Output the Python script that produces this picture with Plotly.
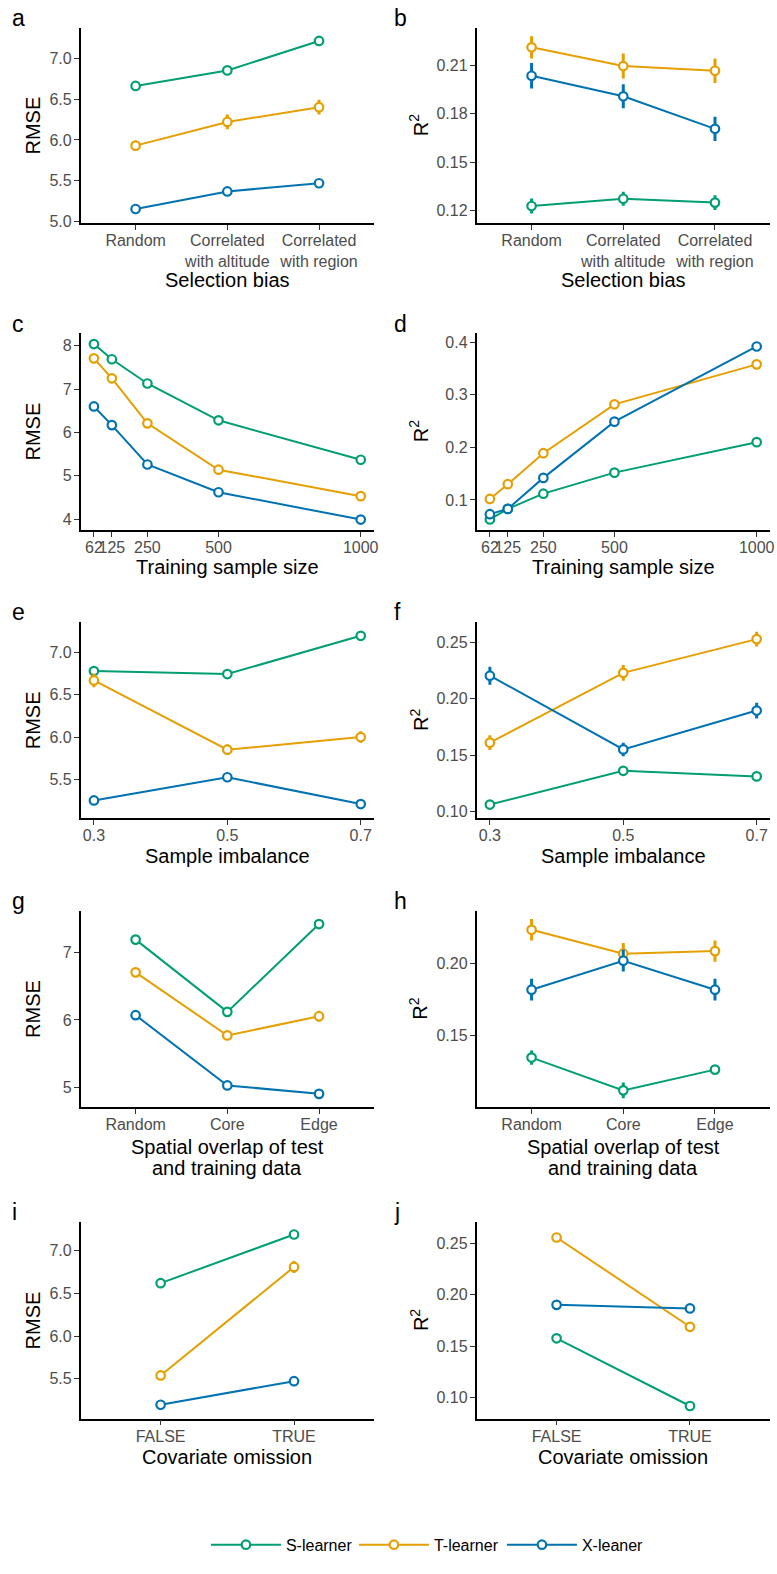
import plotly.graph_objects as go

W, H = 777, 1574

learners = ["S-learner", "T-learner", "X-leaner"]
colors = ["#009E73", "#E69F00", "#0072B2"]

# ---- data ----
sel_bias = ["Random", "Correlated<br>with altitude", "Correlated<br>with region"]
a_rmse = [[6.66, 6.85, 7.21], [5.93, 6.22, 6.40], [5.155, 5.37, 5.47]]
a_err = [[0.03, 0.03, 0.03], [0.06, 0.09, 0.09], [0.03, 0.03, 0.03]]
b_r2 = [[0.1229, 0.1274, 0.125], [0.221, 0.2094, 0.2065], [0.2034, 0.1907, 0.1706]]
b_err = [[0.0046, 0.0043, 0.0046], [0.0069, 0.0077, 0.0076], [0.0079, 0.0074, 0.0075]]

sample_size = [62, 125, 250, 500, 1000]
c_rmse = [[8.04, 7.69, 7.13, 6.28, 5.37], [7.71, 7.25, 6.21, 5.14, 4.53], [6.60, 6.17, 5.26, 4.62, 3.99]]
c_err = [[0.03] * 5, [0.03] * 5, [0.03] * 5]
d_r2 = [[0.063, 0.083, 0.112, 0.152, 0.21], [0.102, 0.130, 0.189, 0.282, 0.358], [0.073, 0.083, 0.142, 0.249, 0.392]]
d_err = [[0.003] * 5, [0.003] * 5, [0.003] * 5]

imbalance = [0.3, 0.5, 0.7]
e_rmse = [[6.78, 6.745, 7.195], [6.67, 5.855, 6.003], [5.257, 5.53, 5.215]]
e_err = [[0.03, 0.03, 0.03], [0.08, 0.06, 0.07], [0.03, 0.03, 0.03]]
f_r2 = [[0.106, 0.136, 0.131], [0.161, 0.223, 0.253], [0.2205, 0.155, 0.1895]]
f_err = [[0.003, 0.003, 0.003], [0.0066, 0.007, 0.0066], [0.008, 0.006, 0.007]]

overlap = ["Random", "Core", "Edge"]
g_rmse = [[7.19, 6.12, 7.42], [6.705, 5.77, 6.055], [6.07, 5.03, 4.905]]
g_err = [[0.04, 0.04, 0.04], [0.05, 0.05, 0.08], [0.04, 0.04, 0.04]]
h_r2 = [[0.1349, 0.1123, 0.1266], [0.223, 0.2065, 0.2083], [0.1817, 0.2017, 0.1817]]
h_err = [[0.0049, 0.0055, 0.003], [0.0074, 0.0074, 0.0074], [0.0075, 0.0075, 0.0075]]

omission = ["FALSE", "TRUE"]
i_rmse = [[6.62, 7.19], [5.54, 6.81], [5.197, 5.473]]
i_err = [[0.03, 0.03], [0.05, 0.07], [0.03, 0.03]]
j_r2 = [[0.1575, 0.0917], [0.2555, 0.1687], [0.19, 0.1865]]
j_err = [[0.002, 0.002], [0.002, 0.002], [0.002, 0.002]]

# ---- layout helpers ----
def px_x(p):
    return p / W

def px_y(p):
    return 1 - p / H

col_px = [(81, 376), (479, 774)]
row_px = [(28, 224), (334.3, 532.3), (625, 821.7), (915, 1111.7), (1227.3, 1425)]
xtitle_y = [[281], [570], [860], [1151.7, 1173.3], [1463.3]]
letter_base = [25, 332, 622, 912, 1224]
letters = [["a", "b"], ["c", "d"], ["e", "f"], ["g", "h"], ["i", "j"]]

panels = [
    [dict(x=sel_bias, y=a_rmse, e=a_err, xtype="category", xr=[-0.6, 2.6], xt=None,
          yt="RMSE", yr=[4.984, 7.37], ytv=[5.0, 5.5, 6.0, 6.5, 7.0], yf=".1f", xl=["Selection bias"]),
     dict(x=sel_bias, y=b_r2, e=b_err, xtype="category", xr=[-0.6, 2.6], xt=None,
          yt="R<sup>2</sup>", yr=[0.1124, 0.233], ytv=[0.12, 0.15, 0.18, 0.21], yf=".2f", xl=["Selection bias"])],
    [dict(x=sample_size, y=c_rmse, e=c_err, xtype="linear", xr=[15.1, 1046.9], xt=sample_size,
          yt="RMSE", yr=[3.75, 8.3], ytv=[4, 5, 6, 7, 8], yf="d", xl=["Training sample size"]),
     dict(x=sample_size, y=d_r2, e=d_err, xtype="linear", xr=[15.1, 1046.9], xt=sample_size,
          yt="R<sup>2</sup>", yr=[0.043, 0.418], ytv=[0.1, 0.2, 0.3, 0.4], yf=".1f", xl=["Training sample size"])],
    [dict(x=imbalance, y=e_rmse, e=e_err, xtype="linear", xr=[0.28, 0.72], xt=imbalance,
          yt="RMSE", yr=[5.05, 7.355], ytv=[5.5, 6.0, 6.5, 7.0], yf=".1f", xl=["Sample imbalance"]),
     dict(x=imbalance, y=f_r2, e=f_err, xtype="linear", xr=[0.28, 0.72], xt=imbalance,
          yt="R<sup>2</sup>", yr=[0.094, 0.268], ytv=[0.10, 0.15, 0.20, 0.25], yf=".2f", xl=["Sample imbalance"])],
    [dict(x=overlap, y=g_rmse, e=g_err, xtype="category", xr=[-0.6, 2.6], xt=None,
          yt="RMSE", yr=[4.714, 7.615], ytv=[5, 6, 7], yf="d",
          xl=["Spatial overlap of test", "and training data"]),
     dict(x=overlap, y=h_r2, e=h_err, xtype="category", xr=[-0.6, 2.6], xt=None,
          yt="R<sup>2</sup>", yr=[0.101, 0.236], ytv=[0.15, 0.20], yf=".2f",
          xl=["Spatial overlap of test", "and training data"])],
    [dict(x=omission, y=i_rmse, e=i_err, xtype="category", xr=[-0.6, 1.6], xt=None,
          yt="RMSE", yr=[5.034, 7.338], ytv=[5.5, 6.0, 6.5, 7.0], yf=".1f", xl=["Covariate omission"]),
     dict(x=omission, y=j_r2, e=j_err, xtype="category", xr=[-0.6, 1.6], xt=None,
          yt="R<sup>2</sup>", yr=[0.0794, 0.2707], ytv=[0.10, 0.15, 0.20, 0.25], yf=".2f",
          xl=["Covariate omission"])],
]

FONT = "Liberation Sans, Arial, sans-serif"
fig = go.Figure()
annotations = []
layout_axes = {}

k = 0
for r, row in enumerate(panels):
    for c, p in enumerate(row):
        k += 1
        xa = "x" if k == 1 else f"x{k}"
        ya = "y" if k == 1 else f"y{k}"
        for li, name in enumerate(learners):
            fig.add_trace(go.Scatter(
                x=p["x"], y=p["y"][li], xaxis=xa, yaxis=ya,
                mode="lines+markers", name=name,
                legendgroup=name, showlegend=(k == 1),
                line=dict(color=colors[li], width=2),
                marker=dict(symbol="circle", size=8.5, color="white",
                            line=dict(color=colors[li], width=2.2)),
                error_y=dict(type="data", array=p["e"][li], visible=True,
                             color=colors[li], thickness=3, width=0),
            ))
        x0, x1 = col_px[c]
        y0, y1 = row_px[r]
        xkey = "xaxis" if k == 1 else f"xaxis{k}"
        ykey = "yaxis" if k == 1 else f"yaxis{k}"
        common = dict(showline=True, linecolor="black", linewidth=1.5, mirror=False,
                      ticks="outside", ticklen=5, tickwidth=1.3, tickcolor="#333333",
                      tickfont=dict(family=FONT, size=16, color="#4D4D4D"),
                      showgrid=False, zeroline=False, fixedrange=True)
        xax = dict(common, domain=[px_x(x0), px_x(x1)], anchor=ya, range=p["xr"],
                   type=p["xtype"], tickangle=0, ticklabelstandoff=-3)
        if p["xt"] is not None:
            xax.update(tickmode="array", tickvals=p["xt"], ticktext=[str(v) for v in p["xt"]])
        yax = dict(common, domain=[px_y(y1), px_y(y0)], anchor=xa, range=p["yr"],
                   tickmode="array", tickvals=p["ytv"], tickformat=p["yf"], ticklabelstandoff=-1)
        layout_axes[xkey] = xax
        layout_axes[ykey] = yax

        # x-axis title
        for ti, t in enumerate(p["xl"]):
            annotations.append(dict(text=t, x=px_x((x0 + x1) / 2), y=px_y(xtitle_y[r][ti]),
                                    xref="paper", yref="paper", xanchor="center", yanchor="middle",
                                    showarrow=False, font=dict(family=FONT, size=20, color="black")))
        # y-axis title
        annotations.append(dict(text=p["yt"], x=px_x(33.3 if c == 0 else 421),
                                y=px_y((y0 + y1) / 2), xref="paper", yref="paper",
                                xanchor="center", yanchor="middle", textangle=-90, showarrow=False,
                                font=dict(family=FONT, size=20, color="black")))
        # panel letter
        annotations.append(dict(text=letters[r][c], x=px_x(10 if c == 0 else 394),
                                y=px_y(letter_base[r] - 7), xref="paper", yref="paper",
                                xanchor="left", yanchor="middle", showarrow=False,
                                font=dict(family=FONT, size=23, color="black")))

fig.update_layout(
    width=W, height=H,
    margin=dict(l=0, r=0, t=0, b=0),
    paper_bgcolor="white", plot_bgcolor="white",
    font=dict(family=FONT, size=16, color="black"),
    showlegend=True,
    legend=dict(orientation="h", x=px_x(207), xanchor="left", y=px_y(1551.7), yanchor="middle",
                font=dict(family=FONT, size=16, color="black"),
                itemwidth=70, entrywidth=63, entrywidthmode="pixels", bgcolor="rgba(0,0,0,0)"),
    annotations=annotations,
    **layout_axes,
)

fig.write_html("out.html")
